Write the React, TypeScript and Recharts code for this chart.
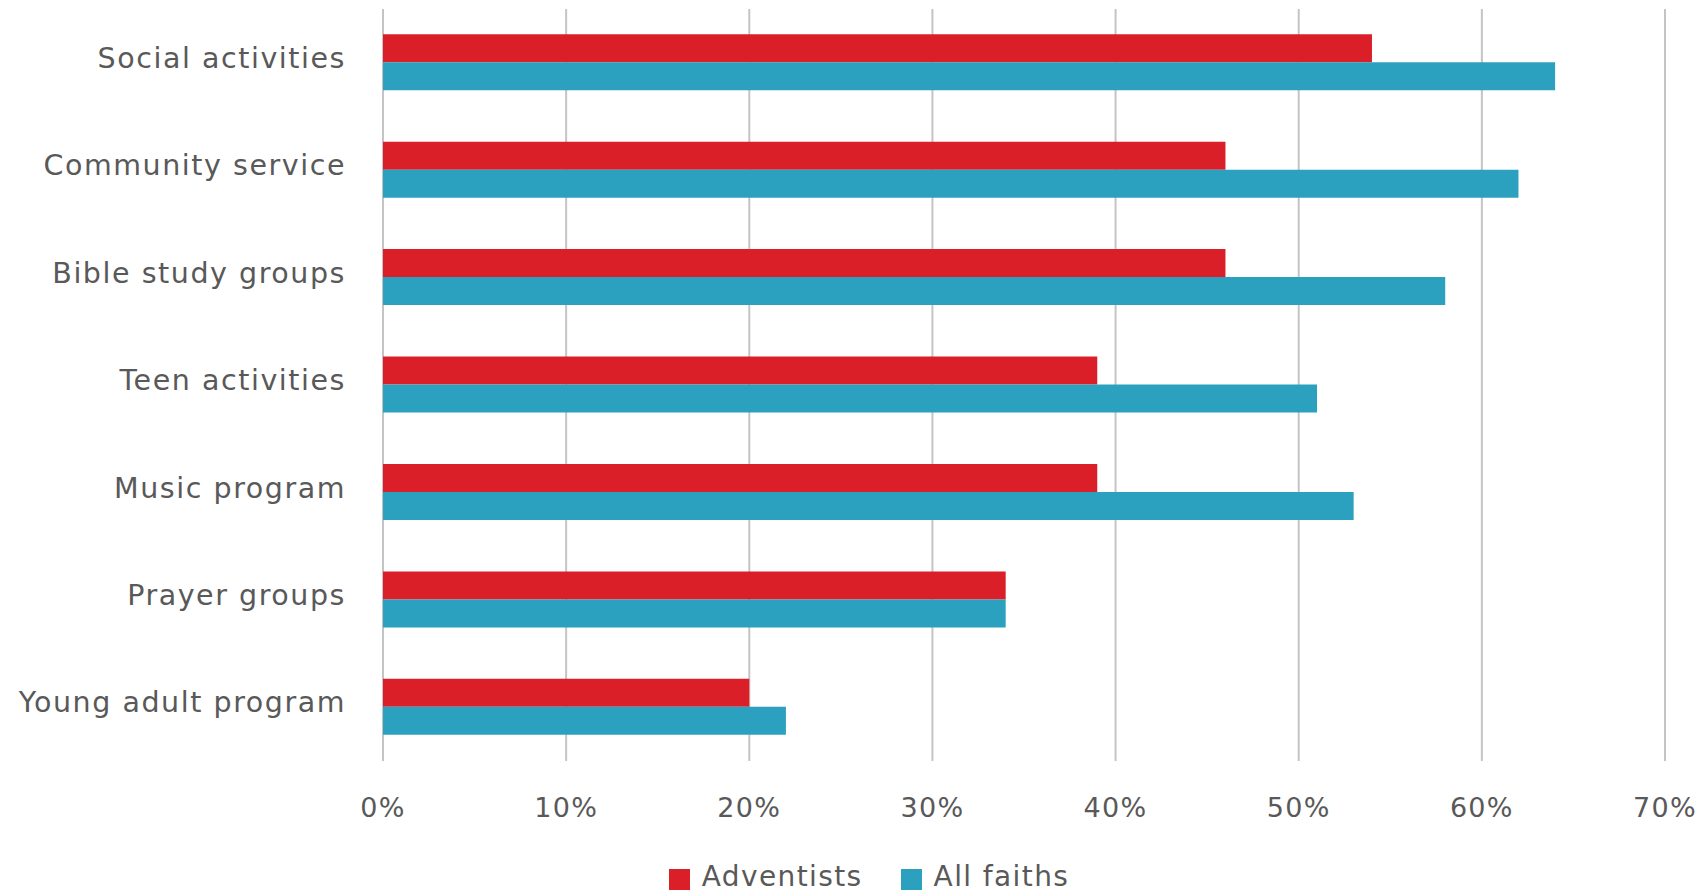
import { BarChart, Bar, XAxis, YAxis, CartesianGrid, Legend } from 'recharts';

const categories = [
  'Social activities',
  'Community service',
  'Bible study groups',
  'Teen activities',
  'Music program',
  'Prayer groups',
  'Young adult program',
];
const adventists = [0.54, 0.46, 0.46, 0.39, 0.39, 0.34, 0.2];
const allFaiths = [0.64, 0.62, 0.58, 0.51, 0.53, 0.34, 0.22];
const xTicks = [0, 0.1, 0.2, 0.3, 0.4, 0.5, 0.6, 0.7];

const data = categories.map((name, i) => ({
  name,
  adventists: adventists[i],
  allFaiths: allFaiths[i],
}));

const FONT = '"DejaVu Sans", sans-serif';
const TEXT = '#595959';

function fmtPct(v: number) {
  return `${Math.round(v * 100)}%`;
}

// eslint-disable-next-line @typescript-eslint/no-explicit-any
function LegendContent({ payload }: any) {
  return (
    <div style={{ display: 'flex', justifyContent: 'center', gap: 38, fontFamily: FONT }}>
      {(payload || []).map((p: any) => (
        <div key={p.value} style={{ display: 'flex', alignItems: 'flex-end', gap: 12 }}>
          <span style={{ width: 21, height: 21, background: p.color, display: 'inline-block', marginBottom: 2 }} />
          <span style={{ fontSize: 28, color: TEXT, letterSpacing: 1.4, lineHeight: '30px' }}>{p.value}</span>
        </div>
      ))}
    </div>
  );
}

export default function App() {
  return (
    <div style={{ position: 'absolute', left: 0, top: 0, width: 1706, height: 893, background: '#fff' }}>
      <BarChart
        width={1706}
        height={893}
        data={data}
        layout="vertical"
        margin={{ top: 9, right: 41, bottom: 72, left: 0 }}
        barCategoryGap="23.5%"
        barGap={0}
      >
        <CartesianGrid horizontal={false} stroke="#c4c4c4" strokeWidth={2} />
        <XAxis
          type="number"
          domain={[0, 0.7]}
          ticks={xTicks}
          tickFormatter={fmtPct}
          axisLine={false}
          tickLine={false}
          tickMargin={31}
          height={60}
          tick={{ fill: TEXT, fontSize: 27, fontFamily: FONT, letterSpacing: 1.3 }}
        />
        <YAxis
          type="category"
          dataKey="name"
          width={383}
          axisLine={false}
          tickLine={false}
          tickMargin={31}
          tick={{ fill: TEXT, fontSize: 28.5, fontFamily: FONT, letterSpacing: 1.55, dy: -5 }}
        />
        <Legend
          layout="horizontal"
          verticalAlign="middle"
          align="center"
          content={<LegendContent />}
          wrapperStyle={{ top: 862, left: 16, width: 1706 }}
        />
        <Bar dataKey="adventists" name="Adventists" fill="#da1f28" isAnimationActive={false} />
        <Bar dataKey="allFaiths" name="All faiths" fill="#2ca1bf" isAnimationActive={false} />
      </BarChart>
    </div>
  );
}
